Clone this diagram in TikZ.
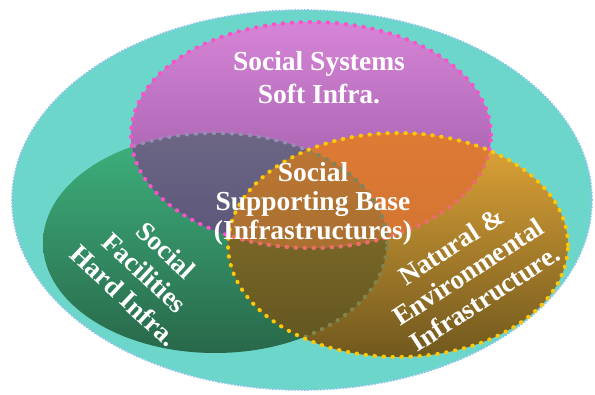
\documentclass[tikz,border=0pt]{standalone}
\usepackage{fontspec}
\setmainfont{Liberation Serif}
\usepackage{tikz}

\definecolor{outerFill}{RGB}{108,214,202}
\definecolor{outerRim}{RGB}{140,195,235}
\definecolor{greenTop}{RGB}{62,178,126}
\definecolor{greenBot}{RGB}{40,104,74}
\definecolor{magTop}{RGB}{214,132,214}
\definecolor{magBot}{RGB}{146,84,158}
\definecolor{orTop}{RGB}{226,166,56}
\definecolor{orBot}{RGB}{112,88,30}
\definecolor{gmTop}{RGB}{126,118,142}
\definecolor{gmBot}{RGB}{90,86,122}
\definecolor{moTop}{RGB}{222,122,52}
\definecolor{moBot}{RGB}{200,112,48}
\definecolor{goTop}{RGB}{140,118,44}
\definecolor{goBot}{RGB}{96,84,32}
\definecolor{gmoTop}{RGB}{192,118,52}
\definecolor{gmoBot}{RGB}{146,106,44}
\definecolor{pinkDot}{RGB}{250,82,200}
\definecolor{salmonDot}{RGB}{232,112,96}
\definecolor{yellowDot}{RGB}{252,200,10}
\definecolor{greyDot}{RGB}{150,140,182}
\definecolor{oliveDot}{RGB}{128,132,78}

\newcommand{\outerE}{(cC) ellipse [x radius=290, y radius=190]}
\newcommand{\greenE}{(cG) ellipse [x radius=172, y radius=110]}
\newcommand{\magE}{(cM) ellipse [x radius=180, y radius=113]}
\newcommand{\orangeE}{(cO) ellipse [x radius=170, y radius=112]}

\begin{document}
\begin{tikzpicture}[x=1pt, y=1pt,
                    infratext/.style={text=white, align=center, inner sep=0pt,
                                      font=\bfseries\fontsize{27.5}{29}\selectfont},
                    tilted/.style={infratext, font=\bfseries\fontsize{27}{31}\selectfont},
                    rim/.style={line width=4pt, line cap=round, dash pattern=on 0.5pt off 8.5pt}]
    \useasboundingbox (0,0) rectangle (595,394);
    \coordinate (cC) at (302,194);
    \coordinate (cG) at (215,151);
    \coordinate (cM) at (311,259);
    \coordinate (cO) at (398,149);

    \fill[outerFill] \outerE;
    \draw[outerRim, line width=1.6pt, dash pattern=on 1.6pt off 1.6pt] \outerE;

    \shade[top color=greenTop, bottom color=greenBot] \greenE;
    \shade[top color=magTop, bottom color=magBot] \magE;
    \shade[top color=orTop, bottom color=orBot] \orangeE;
    \begin{scope}
        \clip \greenE;
        \shade[top color=gmTop, bottom color=gmBot] \magE;
    \end{scope}
    \begin{scope}
        \clip \magE;
        \shade[top color=moTop, bottom color=moBot] \orangeE;
    \end{scope}
    \begin{scope}
        \clip \greenE;
        \shade[top color=goTop, bottom color=goBot] \orangeE;
    \end{scope}
    \begin{scope}
        \clip \greenE;
        \clip \magE;
        \shade[top color=gmoTop, bottom color=gmoBot] \orangeE;
    \end{scope}

    \begin{scope}
        \clip \magE;
        \draw[rim, greyDot] \greenE;
    \end{scope}
    \begin{scope}
        \clip \orangeE;
        \draw[rim, oliveDot] \greenE;
    \end{scope}
    \draw[rim, pinkDot] \magE;
    \begin{scope}
        \clip \orangeE;
        \draw[rim, salmonDot] \magE;
    \end{scope}
    \draw[rim, yellowDot] \orangeE;

    \node[infratext, font=\bfseries\fontsize{27.5}{33}\selectfont] (SoftInfra) at (319,316) {Social Systems\\Soft Infra.};
    \node[infratext] (SupportBase) at (313,190) {Social\\Supporting Base\\(Infrastructures)};
    \node[tilted, rotate=-43] (HardInfra) at (145,121) {Social\\Facilities\\Hard Infra.};
    \node[tilted, rotate=33] (NaturalInfra) at (468,122) {Natural \&\\Environmental\\Infrastructure.};
\end{tikzpicture}
\end{document}
